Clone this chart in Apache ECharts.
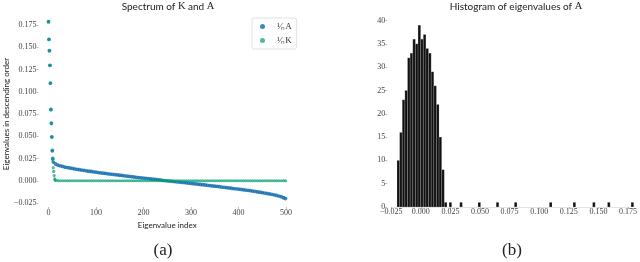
<!DOCTYPE html>
<html>
<head>
<meta charset="utf-8">
<script src="https://cdn.jsdelivr.net/npm/echarts@6/dist/echarts.min.js"></script>
<style>html,body{margin:0;padding:0;background:#fff}#c{width:640px;height:262px}</style>
</head>
<body>
<div id="c"></div>
<script>
// ---- Data ----
// Spectrum of A: the 10 leading eigenvalues (indices 0..9)
const aTopIdx = [0,1,2,3,4,5,6,7,8,9];
const aTop = [0.1787,0.1588,0.1462,0.1297,0.1097,0.0801,0.0648,0.0494,0.0340,0.0250];
// Spectrum of A: bulk, sampled every 5 indices
const aBulkIdx = [10,15,20,25,30,35,40,45,50,55,60,65,70,75,80,85,90,95,100,105,110,115,120,125,130,135,140,145,150,155,160,165,170,175,180,185,190,195,200,205,210,215,220,225,230,235,240,245,250,255,260,265,270,275,280,285,290,295,300,305,310,315,320,325,330,335,340,345,350,355,360,365,370,375,380,385,390,395,400,405,410,415,420,425,430,435,440,445,450,455,460,465,470,475,480,485,490,495,499];
const aBulk = [0.0210,0.0188,0.0175,0.0168,0.0161,0.0153,0.0148,0.0143,0.0138,0.0133,0.0128,0.0124,0.0120,0.0116,0.0111,0.0107,0.0104,0.0100,0.0096,0.0092,0.0088,0.0085,0.0082,0.0078,0.0075,0.0072,0.0068,0.0065,0.0062,0.0059,0.0055,0.0052,0.0049,0.0046,0.0042,0.0039,0.0036,0.0033,0.0030,0.0027,0.0024,0.0021,0.0018,0.0015,0.0012,0.0009,0.0005,0.0002,-0.0001,-0.0004,-0.0006,-0.0009,-0.0012,-0.0015,-0.0018,-0.0021,-0.0023,-0.0027,-0.0030,-0.0033,-0.0036,-0.0039,-0.0042,-0.0045,-0.0048,-0.0051,-0.0055,-0.0058,-0.0061,-0.0064,-0.0067,-0.0071,-0.0074,-0.0078,-0.0081,-0.0084,-0.0088,-0.0091,-0.0094,-0.0098,-0.0101,-0.0105,-0.0108,-0.0112,-0.0116,-0.0120,-0.0125,-0.0129,-0.0134,-0.0138,-0.0143,-0.0148,-0.0153,-0.0158,-0.0165,-0.0172,-0.0180,-0.0191,-0.0200];
// Spectrum of K: leading eigenvalues (indices 0..14)
const kTopIdx = [0,1,2,3,4,5,6,7,8,9,10,11,12,13,14];
const kTop = [0.1785,0.1590,0.1460,0.1295,0.1095,0.0795,0.0640,0.0488,0.0333,0.0238,0.0145,0.0105,0.0058,0.0022,0.0008];
// Spectrum of K: flat bulk, sampled every 5 indices
const kBulkIdx = [15,20,25,30,35,40,45,50,55,60,65,70,75,80,85,90,95,100,105,110,115,120,125,130,135,140,145,150,155,160,165,170,175,180,185,190,195,200,205,210,215,220,225,230,235,240,245,250,255,260,265,270,275,280,285,290,295,300,305,310,315,320,325,330,335,340,345,350,355,360,365,370,375,380,385,390,395,400,405,410,415,420,425,430,435,440,445,450,455,460,465,470,475,480,485,490,495,499];
const kBulk = [0.0003,0.0001,0,0,0,0,0,0,0,0,0,0,0,0,0,0,0,0,0,0,0,0,0,0,0,0,0,0,0,0,0,0,0,0,0,0,0,0,0,0,0,0,0,0,0,0,0,0,0,0,0,0,0,0,0,0,0,0,0,0,0,0,0,0,0,0,0,0,0,0,0,0,0,0,0,0,0,0,0,0,0,0,0,0,0,0,0,0,0,0,0,0,0,0,0,0,0,0];
// Histogram of eigenvalues of A (bulk bins), outliers come from aTop
const histStart = -0.0201;
const histWidth = 0.00222;
const histCounts = [10,16,23,25,32,33,36,35,39,36,37,34,33,29,26,22,15,8,1];
// Texts
const leftTitle = ['Spectrum of ', 'K', ' and ', 'A'];
const rightTitle = ['Histogram of eigenvalues of ', 'A'];
const legendNames = ['¹⁄ₙA', '¹⁄ₙK'];

// ---- Build ----
const pairs = (xs, ys) => xs.map((x, i) => [x, ys[i]]);
const aData = pairs(aTopIdx, aTop).concat(pairs(aBulkIdx, aBulk));
const kData = pairs(kTopIdx, kTop).concat(pairs(kBulkIdx, kBulk));
const histData = histCounts.map((c, i) => [histStart + i * histWidth, histStart + (i + 1) * histWidth, c])
  .concat(aTop.map(v => [v - histWidth / 2, v + histWidth / 2, 1]));

const fmt3 = v => (Math.abs(v) < 1e-9 ? 0 : v).toFixed(3).replace('-', '\u2212');
const serif = 'Liberation Serif';
const sans = 'Lato';
const tickLbl = {fontFamily: serif, fontSize: 8, color: '#444'};

const chart = echarts.init(document.getElementById('c'), null, {renderer: 'canvas'});
chart.setOption({
  animation: false,
  backgroundColor: '#fff',
  graphic: [
    {type: 'text', x: 168, y: 1, style: {
      text: '{t|' + leftTitle[0] + '}{m|' + leftTitle[1] + '}{t|' + leftTitle[2] + '}{m|' + leftTitle[3] + '}',
      align: 'center', verticalAlign: 'top',
      rich: {t: {fontFamily: sans, fontSize: 10, fill: '#222'}, m: {fontFamily: serif, fontSize: 10.5, fill: '#222'}}
    }},
    {type: 'text', x: 516, y: 1, style: {
      text: '{t|' + rightTitle[0] + '}{m|' + rightTitle[1] + '}',
      align: 'center', verticalAlign: 'top',
      rich: {t: {fontFamily: sans, fontSize: 10, fill: '#222'}, m: {fontFamily: serif, fontSize: 10.5, fill: '#222'}}
    }},
    {type: 'text', x: 163, y: 242, style: {text: '(a)', align: 'center', verticalAlign: 'top', fontFamily: serif, fontSize: 17, fill: '#222'}},
    {type: 'text', x: 512, y: 242, style: {text: '(b)', align: 'center', verticalAlign: 'top', fontFamily: serif, fontSize: 17, fill: '#222'}}
  ],
  legend: {
    data: legendNames,
    left: 252, top: 18,
    orient: 'vertical',
    itemWidth: 5, itemHeight: 5, itemGap: 5,
    padding: [4, 5, 4, 8],
    borderColor: '#e2e2e2', borderWidth: 1, borderRadius: 2,
    icon: 'circle',
    formatter: n => '{a|' + n + '}',
    textStyle: {fontFamily: serif, fontSize: 9, color: '#333', rich: {a: {fontFamily: serif, fontSize: 9, color: '#333', padding: [0, 0, 0, 7]}}}
  },
  grid: [
    {left: 48.5, right: 354, top: 25, bottom: 59},
    {left: 391.2, right: 10.2, top: 20.5, bottom: 55}
  ],
  xAxis: [
    {type: 'value', gridIndex: 0, min: 0, max: 500, interval: 100, offset: 4,
     name: 'Eigenvalue index', nameLocation: 'middle', nameGap: 10,
     nameTextStyle: {fontFamily: sans, fontSize: 8, color: '#222'},
     axisLine: {show: false, onZero: false}, axisTick: {show: true, length: 2, lineStyle: {color: '#bbb'}},
     axisLabel: Object.assign({margin: 2}, tickLbl), splitLine: {show: false}},
    {type: 'value', gridIndex: 1, min: -0.025, max: 0.175, interval: 0.025,
     axisLine: {show: true, onZero: false, lineStyle: {color: '#e4e4e4'}}, axisTick: {show: true, length: 2, lineStyle: {color: '#bbb'}},
     axisLabel: Object.assign({margin: 1, formatter: fmt3}, tickLbl), splitLine: {show: false}}
  ],
  yAxis: [
    {type: 'value', gridIndex: 0, min: -0.025, max: 0.175, interval: 0.025, offset: 10,
     name: 'Eigenvalues in descending order', nameLocation: 'middle', nameGap: 28, nameRotate: 90,
     nameTextStyle: {fontFamily: sans, fontSize: 8, color: '#222'},
     axisLine: {show: false, onZero: false}, axisTick: {show: true, length: 2, lineStyle: {color: '#bbb'}},
     axisLabel: Object.assign({margin: 2, formatter: fmt3}, tickLbl), splitLine: {show: false}},
    {type: 'value', gridIndex: 1, min: 0, max: 40, interval: 5, offset: 4,
     axisLine: {show: false, onZero: false}, axisTick: {show: true, length: 2, lineStyle: {color: '#bbb'}},
     axisLabel: Object.assign({margin: 2}, tickLbl), splitLine: {show: false}}
  ],
  series: [
    {name: legendNames[0], type: 'scatter', xAxisIndex: 0, yAxisIndex: 0, data: aData,
     symbol: 'circle', symbolSize: 3.8, clip: false, itemStyle: {color: '#0b6aad'}},
    {name: legendNames[1], type: 'scatter', xAxisIndex: 0, yAxisIndex: 0, data: kData,
     symbol: 'circle', symbolSize: 3.2, clip: false, itemStyle: {color: '#029e73', opacity: 0.7}},
    {type: 'custom', xAxisIndex: 1, yAxisIndex: 1, data: histData, clip: false,
     encode: {x: [0, 1], y: 2},
     renderItem: (params, api) => {
       const p0 = api.coord([api.value(0), api.value(2)]);
       const p1 = api.coord([api.value(1), 0]);
       return {type: 'rect', shape: {x: p0[0], y: p0[1], width: p1[0] - p0[0], height: p1[1] - p0[1]},
               style: {fill: '#111111', stroke: 'rgba(255,255,255,0.55)', lineWidth: 0.3}};
     }}
  ]
});
</script>
</body>
</html>
